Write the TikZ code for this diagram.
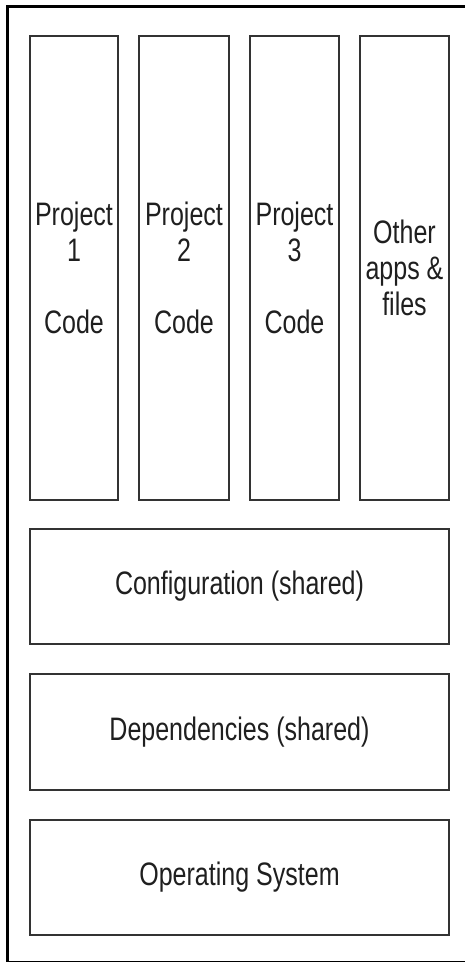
\documentclass[tikz,border=0pt]{standalone}
\usepackage{fontspec}
\setmainfont{Liberation Sans}[FakeStretch=0.77]
\tikzset{
  box/.style={draw=black!80, line width=2pt, rectangle, align=center, text=black!88,
    inner sep=0pt, font=\fontsize{32.5}{36}\selectfont},
  frame/.style={draw=black, line width=3pt}
}
\begin{document}
\begin{tikzpicture}[x=1pt,y=-1pt]
\useasboundingbox (0,0) rectangle (465,962);
\fill[white] (0,0) rectangle (465,962);
\clip (0,0) rectangle (465,962);
\draw[frame] (7,6) rectangle (480,962.8);
\node[box, minimum width=88pt, minimum height=464pt] (p1) at (74,268) {Project\\1\\[36pt]Code};
\node[box, minimum width=90pt, minimum height=464pt] (p2) at (184,268) {Project\\2\\[36pt]Code};
\node[box, minimum width=89pt, minimum height=464pt] (p3) at (294.5,268) {Project\\3\\[36pt]Code};
\node[box, minimum width=89pt, minimum height=464pt] (other) at (404.5,268) {Other\\apps \&\\files};
\node[box, minimum width=419pt, minimum height=115pt] (config) at (239.5,586.5) {Configuration (shared)};
\node[box, minimum width=419pt, minimum height=116pt] (deps) at (239.5,732) {Dependencies (shared)};
\node[box, minimum width=419pt, minimum height=115pt] (os) at (239.5,877.5) {Operating System};
\end{tikzpicture}
\end{document}
